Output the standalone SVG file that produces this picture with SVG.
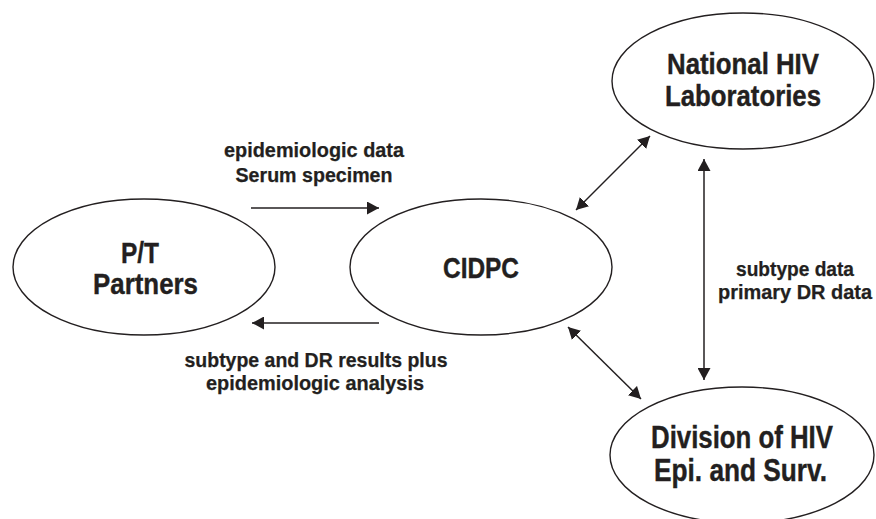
<svg xmlns="http://www.w3.org/2000/svg" width="876" height="519" viewBox="0 0 876 519">
  <defs>
    <style>
      .node { fill: #ffffff; stroke: #231f20; stroke-width: 1.4; }
      .big { font-family: "Liberation Sans", Arial, sans-serif; font-weight: bold; font-size: 30px; fill: #231f20; stroke: #231f20; stroke-width: 0.4; text-anchor: middle; }
      .small { font-family: "Liberation Sans", Arial, sans-serif; font-weight: bold; font-size: 20px; fill: #231f20; stroke: #231f20; stroke-width: 0.25; text-anchor: middle; }
      .conn { stroke: #231f20; stroke-width: 1.5; fill: none; }
    </style>
    <marker id="ah" viewBox="0 0 12 13" refX="12" refY="6.5" markerWidth="12" markerHeight="13" markerUnits="userSpaceOnUse" orient="auto-start-reverse">
      <path d="M0,0 L12,6.5 L0,13 z" fill="#231f20"/>
    </marker>
  </defs>
  <rect width="876" height="519" fill="#ffffff"/>

  <g id="connectors">
    <line class="conn" x1="251" y1="208" x2="379" y2="208" marker-end="url(#ah)"/>
    <line class="conn" x1="379" y1="323" x2="252" y2="323" marker-end="url(#ah)"/>
    <line class="conn" x1="650" y1="136" x2="576" y2="210" marker-start="url(#ah)" marker-end="url(#ah)"/>
    <line class="conn" x1="568" y1="327" x2="641" y2="399" marker-start="url(#ah)" marker-end="url(#ah)"/>
    <line class="conn" x1="704" y1="159" x2="704" y2="380" marker-start="url(#ah)" marker-end="url(#ah)"/>
  </g>

  <g id="labels">
    <text class="small" x="314" y="157" textLength="180" lengthAdjust="spacingAndGlyphs">epidemiologic data</text>
    <text class="small" x="314" y="182" textLength="157" lengthAdjust="spacingAndGlyphs">Serum specimen</text>
    <text class="small" x="316" y="367" textLength="263" lengthAdjust="spacingAndGlyphs">subtype and DR results plus</text>
    <text class="small" x="315" y="390" textLength="218" lengthAdjust="spacingAndGlyphs">epidemiologic analysis</text>
    <text class="small" x="795" y="276" textLength="118" lengthAdjust="spacingAndGlyphs">subtype data</text>
    <text class="small" x="795" y="299" textLength="154" lengthAdjust="spacingAndGlyphs">primary DR data</text>
  </g>

  <g id="node-pt">
    <ellipse class="node" cx="144" cy="267" rx="131" ry="68"/>
    <text class="big" x="140" y="263" textLength="38" lengthAdjust="spacingAndGlyphs">P/T</text>
    <text class="big" x="145.5" y="294" textLength="105" lengthAdjust="spacingAndGlyphs">Partners</text>
  </g>

  <g id="node-cidpc">
    <ellipse class="node" cx="481" cy="267" rx="131" ry="68"/>
    <text class="big" x="481" y="278" textLength="76" lengthAdjust="spacingAndGlyphs">CIDPC</text>
  </g>

  <g id="node-national">
    <ellipse class="node" cx="743" cy="81" rx="131" ry="68"/>
    <text class="big" x="743" y="74" textLength="152" lengthAdjust="spacingAndGlyphs">National HIV</text>
    <text class="big" x="743" y="106" textLength="156" lengthAdjust="spacingAndGlyphs">Laboratories</text>
  </g>

  <g id="node-division">
    <ellipse class="node" cx="742" cy="455" rx="132" ry="68"/>
    <text class="big" x="742" y="448" textLength="182" lengthAdjust="spacingAndGlyphs" style="font-size:31px">Division of HIV</text>
    <text class="big" x="740.5" y="481" textLength="173" lengthAdjust="spacingAndGlyphs" style="font-size:31px">Epi. and Surv.</text>
  </g>
</svg>
